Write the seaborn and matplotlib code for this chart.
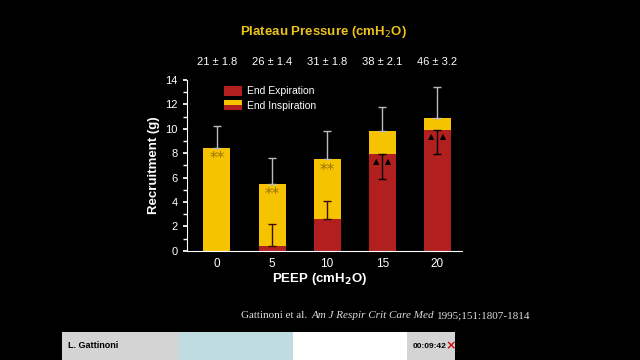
import pandas as pd
import matplotlib.pyplot as plt
import matplotlib.patches as mpatches
import seaborn as sns

# values
peep = ["0", "5", "10", "15", "20"]
total = [8.4, 5.5, 7.5, 9.8, 10.9]          # end inspiration (stack top)
total_err = [1.8, 2.1, 2.3, 2.0, 2.5]
expir = [0.0, 0.4, 2.6, 7.9, 9.9]           # end expiration
expir_err = [0.0, 1.8, 1.5, 2.0, 2.0]
expir_err_down = [False, False, False, True, True]
plateau = ["21 ± 1.8", "26 ± 1.4", "31 ± 1.8", "38 ± 2.1", "46 ± 3.2"]
marks = ["**", "**", "**", "▲  ▲", "▲  ▲"]
mark_y = [7.6, 4.6, 6.6, 7.3, 9.4]

yellow = "#F6C300"
red = "#B1201E"

sns.set_theme(style="dark")
plt.rcParams["font.family"] = ["Liberation Sans", "DejaVu Sans"]

df = pd.DataFrame({"peep": peep, "total": total, "expir": expir})

fig = plt.figure(figsize=(6.4, 3.6), dpi=100, facecolor="black")
ax = fig.add_axes([0.292, 0.303, 0.43, 0.475], facecolor="black")

sns.barplot(data=df, x="peep", y="total", order=peep, color=yellow,
            width=0.49, saturation=1, linewidth=0, ax=ax)
sns.barplot(data=df, x="peep", y="expir", order=peep, color=red,
            width=0.49, saturation=1, linewidth=0, ax=ax)

xs = list(range(len(peep)))
ax.errorbar(xs, total, yerr=[[0] * 5, total_err], fmt="none",
            ecolor="#BBBBBB", elinewidth=1, capsize=3)
for i in range(len(peep)):
    if expir_err[i] == 0:
        continue
    if expir_err_down[i]:
        yerr = [[expir_err[i]], [0]]
        col = "black"
    else:
        yerr = [[0], [expir_err[i]]]
        col = "#3A0A08"
    ax.errorbar([i], [expir[i]], yerr=yerr, fmt="none", ecolor=col,
                elinewidth=1, capsize=3)

for i, m in enumerate(marks):
    if m == "**":
        ax.text(i, mark_y[i], m, ha="center", va="center", fontsize=11,
                color="#9A7400", family=["DejaVu Sans"])
    else:
        ax.text(i, mark_y[i], m, ha="center", va="center", fontsize=6,
                color="black", family=["DejaVu Sans"])

ax.set_xlim(-0.545, 4.45)
ax.set_ylim(0, 14)
ax.set_yticks(range(0, 15, 2))
ax.set_yticks(range(1, 14, 2), minor=True)
ax.set_xlabel("")
ax.set_ylabel("Recruitment (g)", color="white", fontsize=9.5, fontweight="bold", labelpad=4)
ax.tick_params(axis="y", which="both", colors="white", labelsize=8, length=3,
               direction="out", left=True)
ax.tick_params(axis="x", colors="white", labelsize=8.5, length=0, pad=5)
for s in ["top", "right"]:
    ax.spines[s].set_visible(False)
for s in ["left", "bottom"]:
    ax.spines[s].set_color("white")
    ax.spines[s].set_linewidth(0.8)
ax.grid(False)


def fig_rect(x, y, w, h, color):
    # pixel box measured from the top-left corner
    fig.patches.append(mpatches.Rectangle((x / 640, 1 - (y + h) / 360), w / 640, h / 360,
                                          transform=fig.transFigure, facecolor=color,
                                          edgecolor="none", zorder=1))


# legend drawn by hand (second swatch is split yellow over red)
fig_rect(224, 86, 18, 10, red)
fig_rect(224, 100, 18, 5, yellow)
fig_rect(224, 105, 18, 5, red)
fig.text(247 / 640, 1 - 91 / 360, "End Expiration", color="white", fontsize=7.5, va="center")
fig.text(247 / 640, 1 - 106 / 360, "End Inspiration", color="white", fontsize=7.5, va="center")

fig.text(323 / 640, 1 - 32 / 360, "Plateau Pressure (cmH$_2$O)", ha="center",
         va="center", color="#EBC31A", fontsize=9.5, fontweight="bold")
for i, p in enumerate(plateau):
    fig.text((217 + 55 * i) / 640, 1 - 62 / 360, p, ha="center", va="center",
             color="white", fontsize=8)
fig.text(320 / 640, 1 - 279 / 360, r"PEEP (cmH$_\mathbf{2}$O)", ha="center", va="center",
         color="white", fontsize=9.5, fontweight="bold")

# citation, pieces chained left to right
x0 = 241 / 640
fig.canvas.draw()
rend = fig.canvas.get_renderer()
for txt, st, gap in [("Gattinoni et al.", "normal", 4), ("Am J Respir Crit Care Med", "italic", 3),
                     ("1995;151:1807-1814", "normal", 0)]:
    t = fig.text(x0, 1 - 316 / 360, txt, color="#DDDDDD", fontsize=8,
                 family="Liberation Serif", style=st, va="center")
    x0 += (t.get_window_extent(rend).width + gap) / 640

# bottom player bar
fig_rect(62, 332, 393, 28, "#D4D4D4")
fig_rect(179, 332, 114, 28, "#BFDDE0")
fig_rect(293, 332, 114, 28, "white")
fig.text(68 / 640, 1 - 346 / 360, "L. Gattinoni", fontsize=6.5, fontweight="bold",
         color="black", va="center", zorder=6)
fig.text(413 / 640, 1 - 346 / 360, "00:09:42", fontsize=6, fontweight="bold",
         color="black", va="center", zorder=6)
fig.text(451 / 640, 1 - 346 / 360, "×", fontsize=9, fontweight="bold",
         color="#D01010", va="center", ha="center", family=["DejaVu Sans"], zorder=6)

fig.savefig("out.png", dpi=100, facecolor="black")
